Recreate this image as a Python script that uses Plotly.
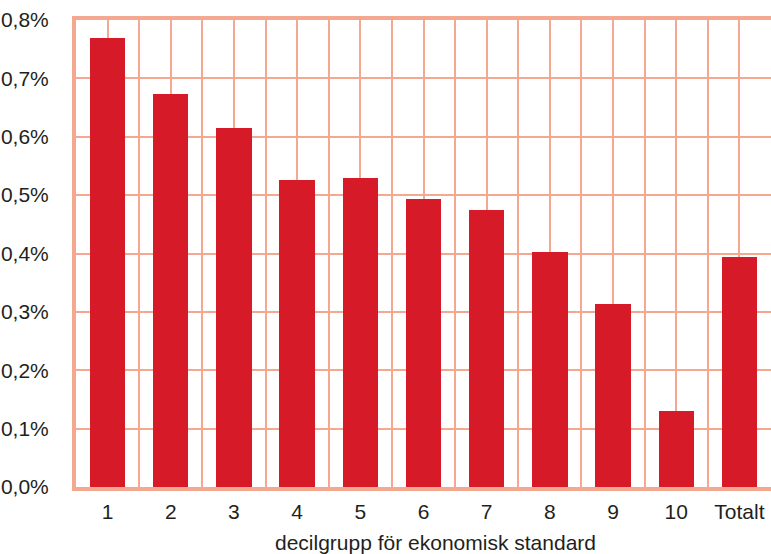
import plotly.graph_objects as go

categories = ["1", "2", "3", "4", "5", "6", "7", "8", "9", "10", "Totalt"]
values = [0.769, 0.673, 0.615, 0.526, 0.529, 0.493, 0.474, 0.403, 0.313, 0.131, 0.394]  # percent
y_ticks = [0.0, 0.1, 0.2, 0.3, 0.4, 0.5, 0.6, 0.7, 0.8]
y_ticklabels = ["0,0%", "0,1%", "0,2%", "0,3%", "0,4%", "0,5%", "0,6%", "0,7%", "0,8%"]
x_title = "decilgrupp för ekonomisk standard"

grid = "#F4A890"
bar_color = "#D71A28"
text_color = "#231F20"

xpos = list(range(len(categories)))

fig = go.Figure(go.Bar(
    x=xpos, y=values, width=0.56,
    marker=dict(color=bar_color, line=dict(width=0)),
))

fig.update_layout(
    width=771, height=554,
    margin=dict(l=76, r=0, t=20, b=67),
    plot_bgcolor="white", paper_bgcolor="white",
    font=dict(family="Liberation Sans, Arial, sans-serif", size=21, color=text_color),
    showlegend=False,
    bargap=0,
    annotations=[dict(
        text=x_title, xref="paper", yref="paper",
        x=0.5166, y=-0.118, xanchor="center", yanchor="middle",
        showarrow=False, font=dict(size=21, color=text_color),
    )],
)
fig.update_xaxes(
    range=[-0.5, len(categories) - 0.5],
    tickvals=xpos, ticktext=categories,
    showgrid=True, gridcolor=grid, gridwidth=2,
    minor=dict(tick0=0.5, dtick=1, showgrid=True, gridcolor=grid, gridwidth=2),
    showline=True, linecolor=grid, linewidth=4, mirror=True,
    ticks="outside", ticklen=3, tickcolor="rgba(0,0,0,0)",
    zeroline=False, automargin=False,
)
fig.update_yaxes(
    range=[0, 0.8],
    tickvals=y_ticks, ticktext=y_ticklabels,
    showgrid=True, gridcolor=grid, gridwidth=2,
    showline=True, linecolor=grid, linewidth=4, mirror=True,
    ticks="outside", ticklen=19, tickcolor="rgba(0,0,0,0)",
    zeroline=False, automargin=False,
)

fig.write_html(
    "out.html",
    config={"displayModeBar": False},
    post_script="document.body.style.margin='0';document.body.style.overflow='hidden';",
)
